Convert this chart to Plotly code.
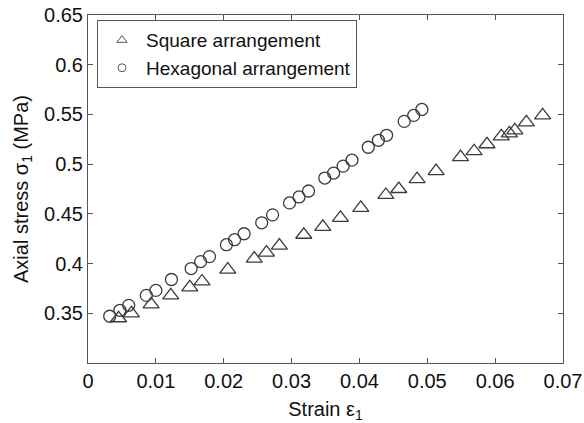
import plotly.graph_objects as go

hex_strain = [0.0032, 0.0047, 0.0060, 0.0086, 0.0100, 0.0123, 0.0152, 0.0166, 0.0179,
              0.0204, 0.0216, 0.0230, 0.0256, 0.0272, 0.0297, 0.0311, 0.0325, 0.0349,
              0.0362, 0.0376, 0.0389, 0.0413, 0.0428, 0.0440, 0.0466, 0.0480, 0.0492]
hex_stress = [0.347, 0.353, 0.358, 0.368, 0.373, 0.384, 0.395, 0.402, 0.407,
              0.419, 0.424, 0.430, 0.441, 0.449, 0.461, 0.467, 0.473, 0.486,
              0.491, 0.498, 0.504, 0.517, 0.524, 0.529, 0.543, 0.549, 0.555]

sq_strain = [0.0045, 0.0064, 0.0093, 0.0122, 0.0150, 0.0168, 0.0206, 0.0245, 0.0263,
             0.0282, 0.0318, 0.0346, 0.0372, 0.0402, 0.0439, 0.0458, 0.0485, 0.0513,
             0.0549, 0.0569, 0.0588, 0.0609, 0.0621, 0.0629, 0.0646, 0.0670]
sq_stress = [0.345, 0.350, 0.359, 0.368, 0.376, 0.382, 0.394, 0.405, 0.411,
             0.418, 0.429, 0.437, 0.446, 0.456, 0.469, 0.475, 0.485, 0.493,
             0.507, 0.513, 0.520, 0.528, 0.531, 0.534, 0.542, 0.549]

x_ticks = [0, 0.01, 0.02, 0.03, 0.04, 0.05, 0.06, 0.07]
x_labels = ["0", "0.01", "0.02", "0.03", "0.04", "0.05", "0.06", "0.07"]
y_ticks = [0.35, 0.4, 0.45, 0.5, 0.55, 0.6, 0.65]
y_labels = ["0.35", "0.4", "0.45", "0.5", "0.55", "0.6", "0.65"]

MC = "#3c3c3c"
FONT = "Liberation Sans, Arial, sans-serif"

fig = go.Figure()
fig.add_trace(go.Scatter(x=sq_strain, y=sq_stress, mode="markers", showlegend=False,
                         marker=dict(symbol="triangle-up-open", size=14, color=MC,
                                     line=dict(width=1.3, color=MC))))
fig.add_trace(go.Scatter(x=hex_strain, y=hex_stress, mode="markers", showlegend=False,
                         marker=dict(symbol="circle-open", size=12, color=MC,
                                     line=dict(width=1.3, color=MC))))
fig.add_trace(go.Scatter(x=[None], y=[None], mode="markers", name="Square arrangement",
                         marker=dict(symbol="triangle-up-open", size=9, color="#555",
                                     line=dict(width=1, color="#555"))))
fig.add_trace(go.Scatter(x=[None], y=[None], mode="markers", name="Hexagonal arrangement",
                         marker=dict(symbol="circle-open", size=8, color="#555",
                                     line=dict(width=1, color="#555"))))

axis_common = dict(showline=True, linecolor="#555", linewidth=1, mirror="ticks",
                   ticks="inside", ticklen=5, tickcolor="#555", showgrid=False,
                   zeroline=False, automargin=False,
                   tickfont=dict(size=20, color="#111", family=FONT))

fig.update_xaxes(range=[0, 0.07], tickvals=x_ticks, ticktext=x_labels,
                 title=dict(text="Strain ε<sub>1</sub>", font=dict(size=20, color="#111", family=FONT),
                            standoff=12),
                 **axis_common)
fig.update_yaxes(range=[0.3, 0.65], tickvals=y_ticks, ticktext=y_labels,
                 title=dict(text="Axial stress σ<sub>1</sub> (MPa)", font=dict(size=20, color="#111", family=FONT),
                            standoff=10),
                 **axis_common)

fig.update_layout(
    width=584, height=423,
    margin=dict(l=88, r=21, t=15, b=60),
    paper_bgcolor="white", plot_bgcolor="white",
    font=dict(family=FONT, color="#111"),
    legend=dict(x=0.019, y=0.985, xanchor="left", yanchor="top",
                bgcolor="white", bordercolor="#555", borderwidth=1,
                font=dict(size=19, color="#111", family=FONT),
                tracegroupgap=0, itemwidth=38),
)

fig.write_html("out.html")
